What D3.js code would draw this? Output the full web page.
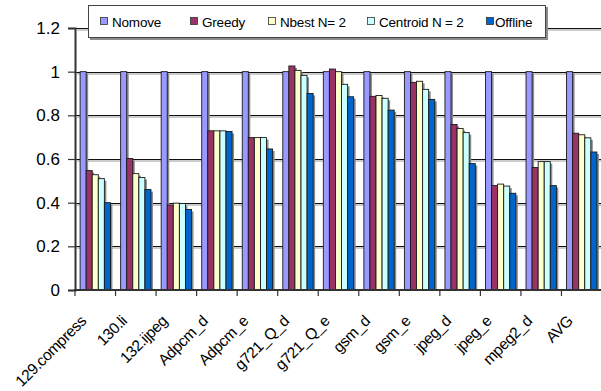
<!DOCTYPE html>
<html>
<head>
<meta charset="utf-8">
<script src="https://cdn.jsdelivr.net/npm/d3@7"></script>
<style>
  html, body { margin: 0; padding: 0; background: #fff; }
  svg { display: block; font-family: "Liberation Sans", Arial, sans-serif; }
</style>
</head>
<body>
<svg id="chart" width="601" height="391"></svg>
<script>
// Benchmarks along the x axis
const categories = ["129.compress", "130.li", "132.ijpeg", "Adpcm_d", "Adpcm_e", "g721_Q_d",
  "g721_Q_e", "gsm_d", "gsm_e", "jpeg_d", "jpeg_e", "mpeg2_d", "AVG"];

// Normalised values per scheme
const nomove   = [1, 1, 1, 1, 1, 1, 1, 1, 1, 1, 1, 1, 1];
const greedy   = [0.547, 0.602, 0.389, 0.729, 0.698, 1.026, 1.012, 0.887, 0.951, 0.758, 0.478, 0.561, 0.718];
const nbest    = [0.528, 0.533, 0.398, 0.729, 0.698, 1.006, 1.000, 0.891, 0.956, 0.740, 0.485, 0.588, 0.711];
const centroid = [0.510, 0.515, 0.396, 0.729, 0.698, 0.983, 0.942, 0.878, 0.919, 0.721, 0.476, 0.588, 0.697];
const offline  = [0.400, 0.460, 0.369, 0.726, 0.646, 0.900, 0.885, 0.824, 0.873, 0.579, 0.443, 0.478, 0.632];

const seriesNames = ["Nomove", "Greedy", "Nbest N= 2", "Centroid N = 2", "Offline"];
const seriesValues = [nomove, greedy, nbest, centroid, offline];
const seriesColors = ["#9999ff", "#993366", "#ffffcc", "#ccffff", "#0066cc"];
const yTicks = [0, 0.2, 0.4, 0.6, 0.8, 1, 1.2];

const svg = d3.select("#chart");
const plotLeft = 75, plotRight = 602, plotTop = 28, plotBottom = 290;

const x = d3.scaleBand().domain(categories).range([plotLeft, plotRight]).paddingInner(0).paddingOuter(0);
const inner = d3.scaleBand().domain(d3.range(seriesNames.length))
  .range([0, x.bandwidth()]).paddingOuter(0.84).paddingInner(0);
const y = d3.scaleLinear().domain([0, 1.2]).range([plotBottom, plotTop]);

// Horizontal gridlines with a soft drop shadow
const grid = svg.append("g");
grid.selectAll("line.shadow").data(yTicks.filter(d => d > 0)).join("line")
  .attr("class", "shadow")
  .attr("x1", plotLeft + 2).attr("x2", 601)
  .attr("y1", d => Math.round(y(d)) + 2).attr("y2", d => Math.round(y(d)) + 2)
  .attr("stroke", "#9a9a9a").attr("stroke-width", 1.2);
grid.selectAll("line.main").data(yTicks.filter(d => d > 0)).join("line")
  .attr("class", "main")
  .attr("x1", plotLeft).attr("x2", 601)
  .attr("y1", d => Math.round(y(d)) + 0.5).attr("y2", d => Math.round(y(d)) + 0.5)
  .attr("stroke", "#111").attr("stroke-width", 1);

// Flattened bar records
const bars = [];
categories.forEach((c, i) => {
  seriesValues.forEach((vals, s) => bars.push({ c, s, v: vals[i] }));
});

// Bar shadows
svg.append("g").selectAll("rect").data(bars).join("rect")
  .attr("x", d => x(d.c) + inner(d.s) + 2)
  .attr("y", d => y(d.v) + 2)
  .attr("width", inner.bandwidth())
  .attr("height", d => plotBottom - y(d.v) - 2)
  .attr("fill", "#8c8c8c");

// Bars
svg.append("g").selectAll("rect").data(bars).join("rect")
  .attr("x", d => x(d.c) + inner(d.s))
  .attr("y", d => y(d.v))
  .attr("width", inner.bandwidth())
  .attr("height", d => plotBottom - y(d.v))
  .attr("fill", d => seriesColors[d.s])
  .attr("stroke", "#1a1a1a").attr("stroke-width", 0.9);

// Y axis
const yAxis = svg.append("g").attr("transform", `translate(${plotLeft},0)`)
  .call(d3.axisLeft(y).tickValues(yTicks).tickFormat(d3.format("")).tickSize(7).tickPadding(8));
yAxis.select(".domain").attr("stroke", "#333").attr("stroke-width", 2);
yAxis.selectAll(".tick line").attr("stroke", "#333").attr("stroke-width", 1.2);
yAxis.selectAll(".tick text").attr("font-size", 17).attr("fill", "#000")
  .attr("font-family", "Liberation Sans, Arial, sans-serif");

// X axis with ticks on category boundaries
const xAxisG = svg.append("g").attr("transform", `translate(0,${plotBottom})`);
xAxisG.append("line").attr("x1", plotLeft - 1).attr("x2", 601).attr("y1", 0).attr("y2", 0)
  .attr("stroke", "#333").attr("stroke-width", 2);
xAxisG.selectAll("line.tk").data(categories).join("line")
  .attr("class", "tk")
  .attr("x1", d => x(d)).attr("x2", d => x(d))
  .attr("y1", 0).attr("y2", 6)
  .attr("stroke", "#333").attr("stroke-width", 1.2);
xAxisG.selectAll("text").data(categories).join("text")
  .attr("transform", d => `translate(${x(d) + x.bandwidth() / 2 - 8},${32}) rotate(-45)`)
  .attr("text-anchor", "end")
  .attr("font-size", 15.5)
  .attr("letter-spacing", -0.4)
  .attr("fill", "#000")
  .text(d => d);

// Legend
const legend = svg.append("g");
legend.append("rect").attr("x", 90).attr("y", 7).attr("width", 458).attr("height", 33).attr("fill", "#8c8c8c");
legend.append("rect").attr("x", 88.5).attr("y", 5.5).attr("width", 457).attr("height", 32)
  .attr("fill", "#fff").attr("stroke", "#444").attr("stroke-width", 1);
const legendX = [100, 190, 268, 367, 486];
const items = legend.selectAll("g.item").data(seriesNames).join("g")
  .attr("class", "item")
  .attr("transform", (d, i) => `translate(${legendX[i]},0)`);
items.append("rect").attr("x", 0.5).attr("y", 17.5).attr("width", 7).attr("height", 7)
  .attr("fill", (d, i) => seriesColors[i]).attr("stroke", "#333").attr("stroke-width", 0.8);
items.append("text").attr("x", (d, i) => i === 4 ? 9 : 12).attr("y", 26.5)
  .attr("font-size", 13.5).attr("letter-spacing", -0.2).attr("fill", "#000")
  .text(d => d);
</script>
</body>
</html>
